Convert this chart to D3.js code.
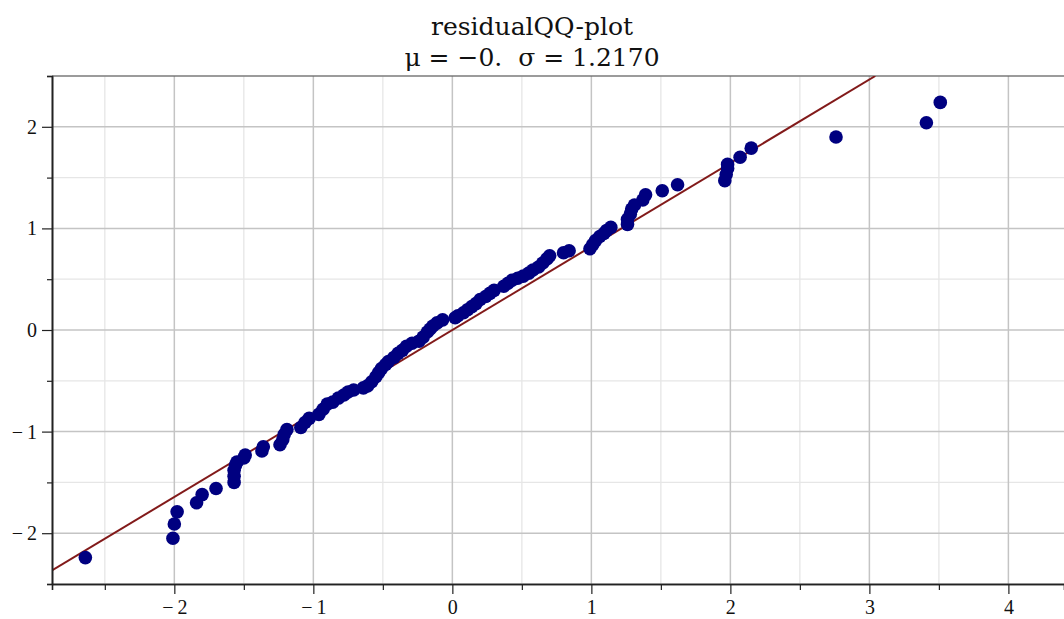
<!DOCTYPE html>
<html>
<head>
<meta charset="utf-8">
<script src="https://cdn.jsdelivr.net/npm/d3@7"></script>
<style>
  body { margin: 0; background: #fff; }
  svg { display: block; }
</style>
</head>
<body>
<div id="chart-area"></div>
<script>
const margin = {top: 76, right: 0, bottom: 35, left: 52},
    width = 1064 - margin.left - margin.right,
    height = 619 - margin.top - margin.bottom;

const title1 = "residualQQ-plot";
const title2 = "\u03bc = \u22120. \u00a0\u03c3 = 1.2170";
const sigma = 1.2170;

// sorted residuals (x) against normal quantiles (y)
const residuals = [
  -2.64, -2.01, -2.00, -1.98, -1.84, -1.80, -1.70, -1.57, -1.57, -1.57,
  -1.56, -1.55, -1.50, -1.49, -1.37, -1.36, -1.24, -1.22, -1.21, -1.19,
  -1.09, -1.06, -1.03, -0.96, -0.93, -0.90, -0.86, -0.82, -0.78, -0.75,
  -0.71, -0.64, -0.61, -0.58, -0.55, -0.53, -0.51, -0.48, -0.46, -0.42,
  -0.39, -0.36, -0.33, -0.29, -0.24, -0.21, -0.18, -0.16, -0.14, -0.11,
  -0.07, 0.02, 0.04, 0.08, 0.11, 0.14, 0.17, 0.20, 0.24, 0.27,
  0.30, 0.37, 0.40, 0.43, 0.47, 0.51, 0.55, 0.58, 0.62, 0.65,
  0.68, 0.70, 0.80, 0.84, 0.99, 1.01, 1.03, 1.06, 1.09, 1.11,
  1.14, 1.26, 1.26, 1.28, 1.29, 1.31, 1.37, 1.39, 1.51, 1.62,
  1.96, 1.97, 1.98, 1.98, 2.07, 2.15, 2.76, 3.41, 3.51
];
const quantiles = [
  -2.24, -2.05, -1.91, -1.79, -1.70, -1.62, -1.56, -1.50, -1.44, -1.38,
  -1.33, -1.30, -1.26, -1.23, -1.19, -1.15, -1.13, -1.08, -1.03, -0.98,
  -0.96, -0.91, -0.87, -0.83, -0.78, -0.73, -0.71, -0.67, -0.64, -0.61,
  -0.59, -0.57, -0.55, -0.51, -0.46, -0.42, -0.38, -0.34, -0.31, -0.27,
  -0.23, -0.20, -0.16, -0.13, -0.11, -0.07, -0.02, 0.01, 0.04, 0.07,
  0.10, 0.12, 0.14, 0.17, 0.20, 0.23, 0.26, 0.30, 0.33, 0.36,
  0.39, 0.43, 0.46, 0.49, 0.51, 0.53, 0.56, 0.59, 0.62, 0.66,
  0.70, 0.73, 0.76, 0.78, 0.80, 0.84, 0.88, 0.92, 0.95, 0.98,
  1.01, 1.04, 1.09, 1.14, 1.19, 1.23, 1.28, 1.33, 1.37, 1.43,
  1.47, 1.53, 1.59, 1.63, 1.70, 1.79, 1.90, 2.04, 2.24
];

const xTicks = [-2, -1, 0, 1, 2, 3, 4];
const yTicks = [-2, -1, 0, 1, 2];
const xMinor = [-2.5, -1.5, -0.5, 0.5, 1.5, 2.5, 3.5];
const yMinor = [-2.5, -1.5, -0.5, 0.5, 1.5, 2.5];

const points = residuals.map((r, i) => ({x: r, y: quantiles[i]}));

const fmt = d => d < 0 ? "\u2212\u2009" + Math.abs(d) : String(d);

//--------------------------- SVG
const svg = d3.select("#chart-area")
  .append("svg")
    .attr("width", 1064)
    .attr("height", 619);

svg.append("defs").append("clipPath")
    .attr("id", "plot-clip")
  .append("rect")
    .attr("width", width)
    .attr("height", height);

const g = svg.append("g")
    .attr("transform", `translate(${margin.left}, ${margin.top})`);

//--------------------------- SCALES
const x = d3.scaleLinear()
  .domain([-2.88, 4.40])
  .range([0, width]);

const y = d3.scaleLinear()
  .domain([-2.5, 2.5])
  .range([height, 0]);

//--------------------------- GRID
const grid = g.append("g").attr("id", "grid");

grid.append("g").selectAll("line")
  .data(xMinor).join("line")
    .attr("x1", d => x(d)).attr("x2", d => x(d))
    .attr("y1", 0).attr("y2", height)
    .attr("stroke", "#e6e6e6").attr("stroke-width", 1.3);

grid.append("g").selectAll("line")
  .data(yMinor).join("line")
    .attr("y1", d => y(d)).attr("y2", d => y(d))
    .attr("x1", 0).attr("x2", width)
    .attr("stroke", "#e6e6e6").attr("stroke-width", 1.3);

grid.append("g").selectAll("line")
  .data(xTicks).join("line")
    .attr("x1", d => x(d)).attr("x2", d => x(d))
    .attr("y1", 0).attr("y2", height)
    .attr("stroke", "#c4c4c4").attr("stroke-width", 1.5);

grid.append("g").selectAll("line")
  .data(yTicks).join("line")
    .attr("y1", d => y(d)).attr("y2", d => y(d))
    .attr("x1", 0).attr("x2", width)
    .attr("stroke", "#c4c4c4").attr("stroke-width", 1.5);

// top border
g.append("line")
    .attr("x1", 0).attr("x2", width)
    .attr("y1", 0).attr("y2", 0)
    .attr("stroke", "#4a4a4a").attr("stroke-width", 1.2);

//--------------------------- REFERENCE LINE  y = x / sigma
const plot = g.append("g").attr("clip-path", "url(#plot-clip)");

const lineEnds = [x.domain()[0], y.domain()[1] * sigma];
plot.append("line")
    .attr("x1", x(lineEnds[0])).attr("y1", y(lineEnds[0] / sigma))
    .attr("x2", x(lineEnds[1])).attr("y2", y(lineEnds[1] / sigma))
    .attr("stroke", "#821a1a")
    .attr("stroke-width", 2);

//--------------------------- POINTS
plot.selectAll("circle")
  .data(points).join("circle")
    .attr("cx", d => x(d.x))
    .attr("cy", d => y(d.y))
    .attr("r", 6.8)
    .attr("fill", "#000080");

//--------------------------- AXES
const xAxisMinor = g.append("g")
  .attr("transform", `translate(0, ${height})`)
  .call(d3.axisBottom(x).tickValues(xMinor).tickSize(6).tickFormat(""));

const xAxisGroup = g.append("g")
  .attr("transform", `translate(0, ${height})`)
  .call(d3.axisBottom(x).tickValues(xTicks).tickSize(10).tickSizeOuter(0).tickPadding(6).tickFormat(fmt));

const yAxisMinor = g.append("g")
  .call(d3.axisLeft(y).tickValues(yMinor).tickSize(5).tickFormat(""));

const yAxisGroup = g.append("g")
  .call(d3.axisLeft(y).tickValues(yTicks).tickSize(10).tickSizeOuter(0).tickPadding(5).tickFormat(fmt));

[xAxisMinor, xAxisGroup, yAxisMinor, yAxisGroup].forEach(a => {
  a.attr("font-family", "'Liberation Serif', 'Times New Roman', serif")
   .attr("font-size", 20);
  a.select(".domain").attr("stroke", "#222").attr("stroke-width", 1.6);
  a.selectAll(".tick line").attr("stroke", "#222").attr("stroke-width", 1.2);
  a.selectAll("text").attr("fill", "#111");
});

//--------------------------- TITLE
svg.append("text")
    .attr("x", 532).attr("y", 35)
    .attr("text-anchor", "middle")
    .attr("font-family", "'DejaVu Serif', serif")
    .attr("font-size", 25)
    .attr("fill", "#111")
    .text(title1);

svg.append("text")
    .attr("x", 532).attr("y", 66)
    .attr("text-anchor", "middle")
    .attr("font-family", "'DejaVu Serif', serif")
    .attr("font-size", 25)
    .attr("fill", "#111")
    .text(title2);
</script>
</body>
</html>
